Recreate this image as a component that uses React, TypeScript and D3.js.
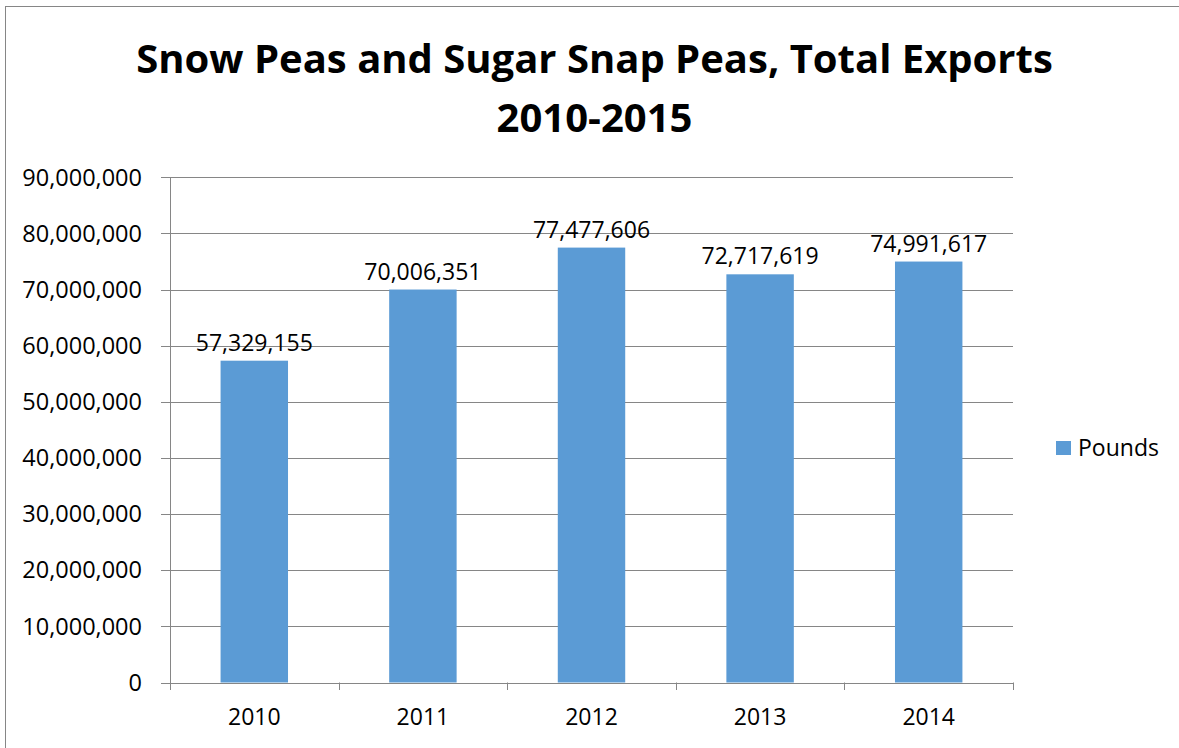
import React from "react";
import * as d3 from "d3";

const years = ["2010", "2011", "2012", "2013", "2014"];
const pounds = [57329155, 70006351, 77477606, 72717619, 74991617];
const yTicks = [0, 10000000, 20000000, 30000000, 40000000, 50000000, 60000000, 70000000, 80000000, 90000000];
const titleLines = ["Snow Peas and Sugar Snap Peas, Total Exports", "2010-2015"];
const seriesName = "Pounds";

export default function App() {
  const W = 1179, H = 748;
  const left = 170, right = 1013, top = 177.3, bottom = 682.5;
  const y = d3.scaleLinear().domain([0, 90000000]).range([bottom, top]);
  const x = d3.scaleBand().domain(years).range([left, right]).paddingInner(0.6).paddingOuter(0.3);
  const fmt = d3.format(",");
  const step = x.step();
  const font = "'Open Sans', sans-serif";
  const grid = "#868686";
  const barColor = "#5B9BD5";
  return (
    <svg width={W} height={H} style={{ position: "absolute", left: 0, top: 0, display: "block", background: "#fff" }}>
      <rect x={5.5} y={6.5} width={1180} height={760} fill="#fff" stroke={grid} strokeWidth={1} />
      {titleLines.map((t, i) => (
        <text key={t} x={594.5} y={72.7 + i * 59} textAnchor="middle" fontFamily={font} fontWeight={700} fontSize={40} fill="#000">{t}</text>
      ))}
      {yTicks.map((v) => (
        <g key={v}>
          <line x1={161} x2={right} y1={Math.round(y(v)) + 0.5} y2={Math.round(y(v)) + 0.5} stroke={grid} strokeWidth={1} />
          <text x={142} y={y(v)} dy="0.35em" textAnchor="end" fontFamily={font} fontSize={23.5} fill="#000">{fmt(v)}</text>
        </g>
      ))}
      <line x1={left + 0.5} x2={left + 0.5} y1={top} y2={690} stroke={grid} strokeWidth={1} />
      {d3.range(years.length + 1).map((i) => (
        <line key={i} x1={Math.round(left + i * step) + 0.5} x2={Math.round(left + i * step) + 0.5} y1={bottom} y2={690} stroke={grid} strokeWidth={1} />
      ))}
      {years.map((yr, i) => (
        <g key={yr}>
          <rect x={x(yr)} y={y(pounds[i])} width={x.bandwidth()} height={bottom - y(pounds[i])} fill={barColor} />
          <text x={(x(yr) as number) + x.bandwidth() / 2} y={y(pounds[i]) - 10} textAnchor="middle" fontFamily={font} fontSize={23} fill="#000">{fmt(pounds[i])}</text>
          <text x={(x(yr) as number) + x.bandwidth() / 2} y={725} textAnchor="middle" fontFamily={font} fontSize={23} fill="#000">{yr}</text>
        </g>
      ))}
      <rect x={1056} y={441} width={15} height={14} fill={barColor} />
      <text x={1078} y={456} fontFamily={font} fontSize={23} fill="#000">{seriesName}</text>
    </svg>
  );
}
